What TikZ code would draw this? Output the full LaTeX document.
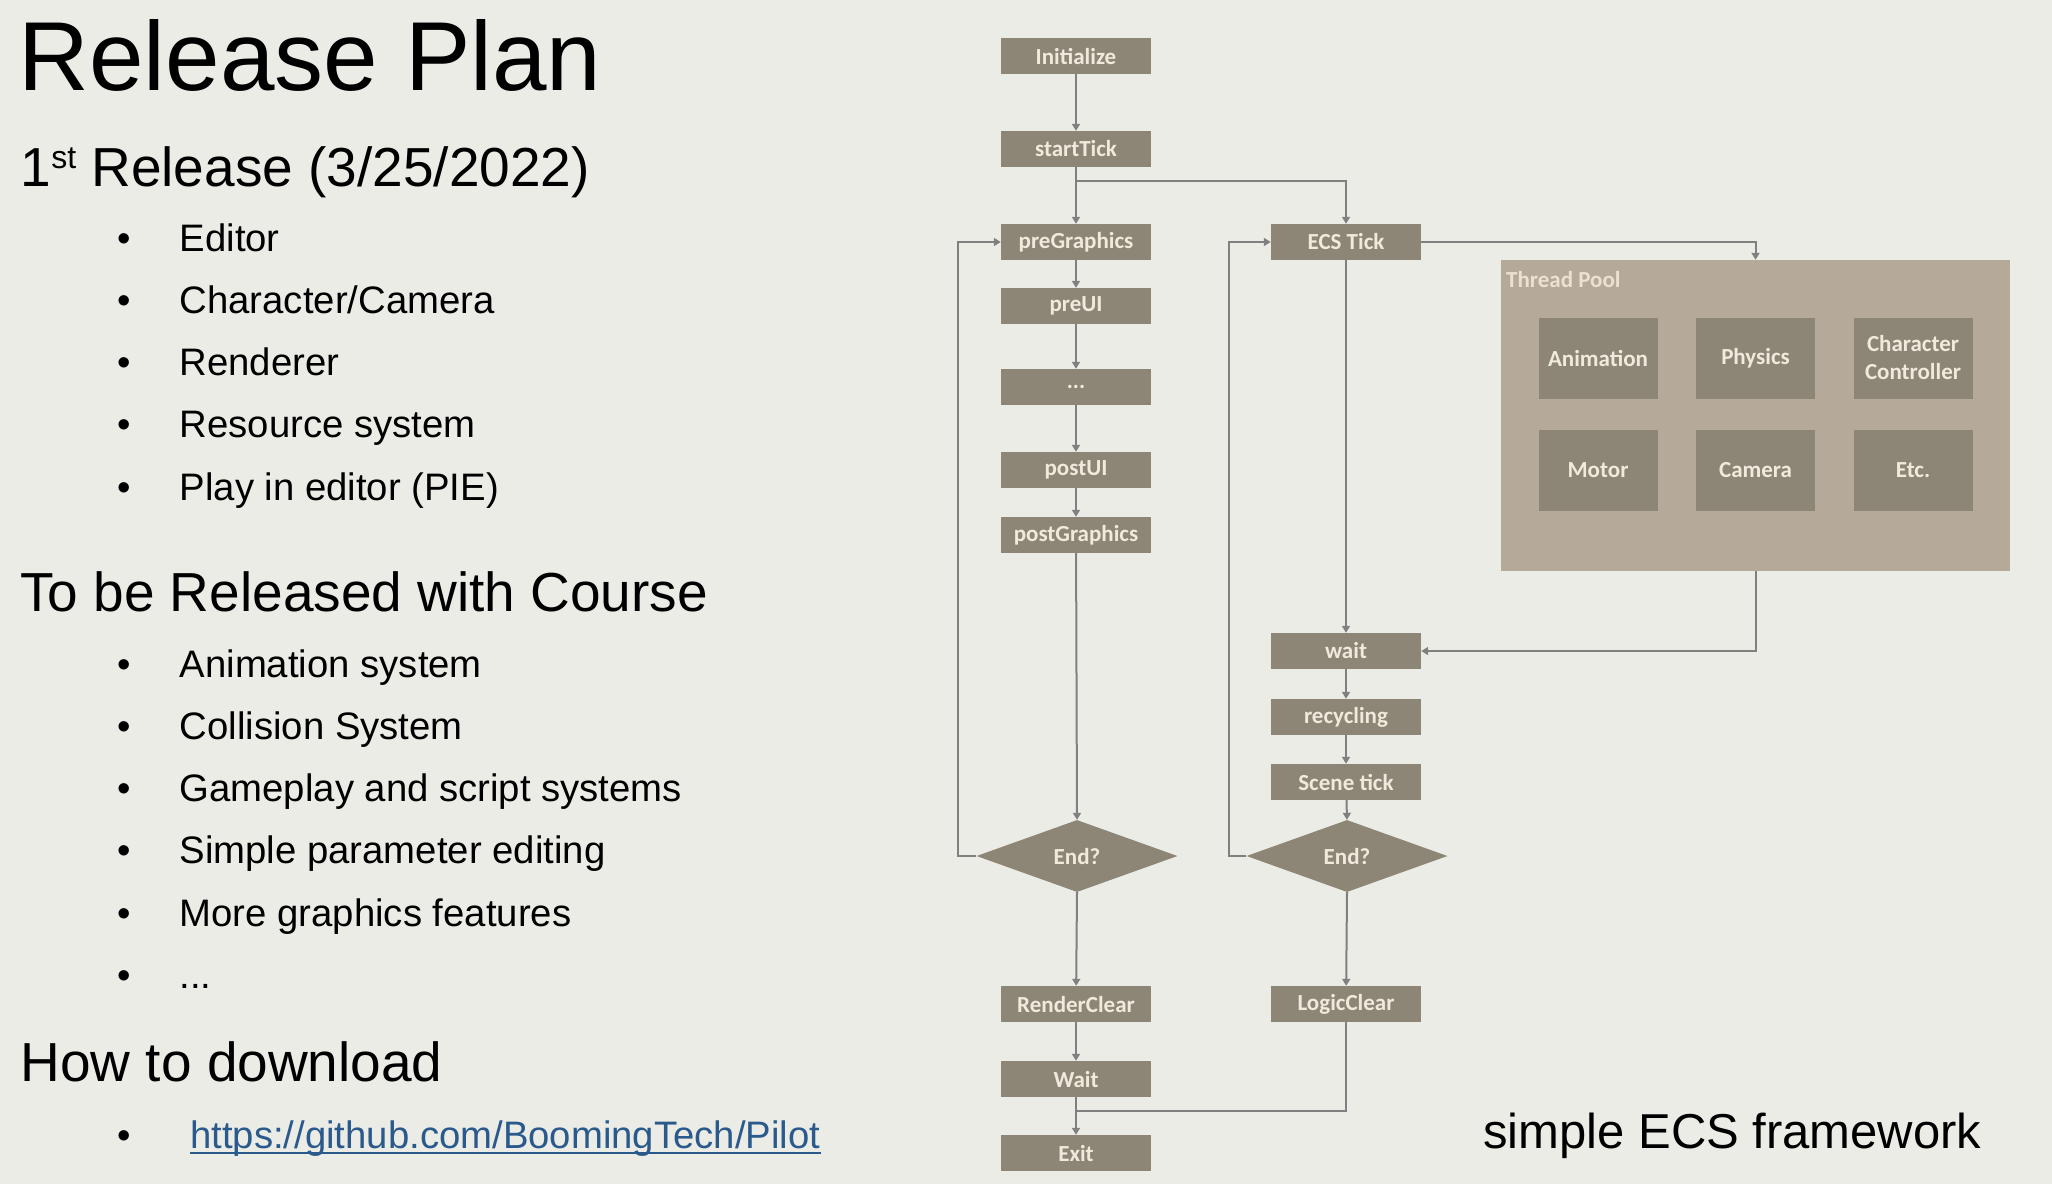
\documentclass[tikz,border=0pt]{standalone}
\usepackage{fontspec}
\setmainfont{Liberation Sans}
\newfontfamily\boxfamily{Carlito}
\usetikzlibrary{shapes.geometric,arrows.meta}

\definecolor{pagebg}{HTML}{ECECE7}
\definecolor{boxfill}{HTML}{8D8677}
\definecolor{poolfill}{HTML}{B5AA9A}
\definecolor{boxtext}{HTML}{F0EADD}
\definecolor{pooltext}{HTML}{EAE1D1}
\definecolor{linegray}{HTML}{808080}
\definecolor{linkblue}{HTML}{2A5A8C}

\newcommand\boxfont{\boxfamily\bfseries\fontsize{23}{28}\selectfont}
\newcommand\titlefont{\fontsize{98}{112}\selectfont}
\newcommand\headfont{\fontsize{55}{63}\selectfont}
\newcommand\itemfont{\fontsize{38.3}{46}\selectfont}
\newcommand\notefont{\fontsize{49}{58}\selectfont}
\newcommand\ordsuffix[1]{\raisebox{18pt}{\fontsize{32}{32}\selectfont #1}}

\tikzset{
  stepbox/.style={rectangle, fill=boxfill, text=boxtext, font=\boxfont,
    minimum width=150pt, minimum height=36pt, inner sep=0pt},
  decision/.style={diamond, fill=boxfill, text=boxtext, font=\boxfont,
    minimum width=201pt, minimum height=72pt, inner sep=0pt},
  sysbox/.style={rectangle, fill=boxfill, text=boxtext, font=\boxfont,
    minimum width=119pt, minimum height=81pt, inner sep=0pt, align=center},
  pool/.style={rectangle, fill=poolfill, minimum width=509pt,
    minimum height=311pt, inner sep=0pt},
  flow/.style={draw=linegray, line width=2pt},
  arr/.style={flow, -{Triangle[length=7pt,width=8pt]}},
  txt/.style={anchor=base west, inner sep=0pt, text=black},
  bullet/.style={anchor=base, inner sep=0pt, text=black, font=\itemfont},
}

\begin{document}
\begin{tikzpicture}[x=1pt, y=-1pt]
  % page
  \fill[pagebg] (0,0) rectangle (2052,1184);
  \useasboundingbox (0,0) rectangle (2052,1184);

  % ---------- text column ----------
  \node[txt, font=\titlefont] (title) at (18.5,90) {Release Plan};
  \node[txt, font=\headfont] (rel1) at (20.5,186) {1\ordsuffix{st} Release (3/25/2022)};

  \node[bullet] (b1) at (124.6,251) {•};
  \node[txt, font=\itemfont] (i1) at (179.5,251) {Editor};
  \node[bullet] (b2) at (124.6,313.5) {•};
  \node[txt, font=\itemfont] (i2) at (179.5,313.5) {Character/Camera};
  \node[bullet] (b3) at (124.6,375.5) {•};
  \node[txt, font=\itemfont] (i3) at (179.5,375.5) {Renderer};
  \node[bullet] (b4) at (124.6,437.5) {•};
  \node[txt, font=\itemfont] (i4) at (179.5,437.5) {Resource system};
  \node[bullet] (b5) at (124.6,500) {•};
  \node[txt, font=\itemfont] (i5) at (179.5,500) {Play in editor (PIE)};

  \node[txt, font=\headfont] (course) at (20,611.5) {To be Released with Course};

  \node[bullet] (c1b) at (124.6,677) {•};
  \node[txt, font=\itemfont] (c1) at (179.5,677) {Animation system};
  \node[bullet] (c2b) at (124.6,739) {•};
  \node[txt, font=\itemfont] (c2) at (179.5,739) {Collision System};
  \node[bullet] (c3b) at (124.6,801) {•};
  \node[txt, font=\itemfont] (c3) at (179.5,801) {Gameplay and script systems};
  \node[bullet] (c4b) at (124.6,863) {•};
  \node[txt, font=\itemfont] (c4) at (179.5,863) {Simple parameter editing};
  \node[bullet] (c5b) at (124.6,926) {•};
  \node[txt, font=\itemfont] (c5) at (179.5,926) {More graphics features};
  \node[bullet] (c6b) at (124.6,988) {•};
  \node[txt, font=\itemfont] (c6) at (179.5,988) {...};

  \node[txt, font=\headfont] (dl) at (20.5,1081) {How to download};
  \node[bullet] (lb) at (124.6,1148) {•};
  \node[txt, font=\itemfont, text=linkblue] (link) at (190,1148) {https://github.com/BoomingTech/Pilot};
  \draw[linkblue, line width=2pt] ([yshift=-5pt]link.base west) -- ([yshift=-5pt]link.base east);

  \node[txt, font=\notefont] (ecsnote) at (1483,1148) {simple ECS framework};

  % ---------- render loop column ----------
  \node[stepbox] (init)   at (1076,56)  {Initialize};
  \node[stepbox] (start)  at (1076,149) {startTick};
  \node[stepbox] (preg)   at (1076,242) {preGraphics};
  \node[stepbox] (preui)  at (1076,306) {preUI};
  \node[stepbox] (mid)    at (1076,387) {...};
  \node[stepbox] (postui) at (1076,470) {postUI};
  \node[stepbox] (postg)  at (1076,535) {postGraphics};
  \node[decision] (endl)  at (1077,856) {End?};
  \node[stepbox] (rclear) at (1076,1004) {RenderClear};
  \node[stepbox] (waitl)  at (1076,1079) {Wait};
  \node[stepbox] (exit)   at (1076,1153) {Exit};

  % ---------- logic loop column ----------
  \node[stepbox] (ecs)    at (1346,242) {ECS Tick};
  \node[stepbox] (waitr)  at (1346,651) {wait};
  \node[stepbox] (recyc)  at (1346,717) {recycling};
  \node[stepbox] (scene)  at (1346,782) {Scene tick};
  \node[decision] (endr)  at (1347,856) {End?};
  \node[stepbox] (lclear) at (1346,1004) {LogicClear};

  % ---------- thread pool ----------
  \node[pool] (tpool) at (1755.5,415.5) {};
  \node[anchor=base west, inner sep=0pt, text=pooltext, font=\boxfont] (tplabel) at (1506,287) {Thread Pool};
  \node[sysbox] (anim)  at (1598,358)   {Animation};
  \node[sysbox] (phys)  at (1755.5,358) {Physics};
  \node[sysbox] (ctrl)  at (1913,358)   {Character\\Controller};
  \node[sysbox] (motor) at (1598,470)   {Motor};
  \node[sysbox] (cam)   at (1755.5,470) {Camera};
  \node[sysbox] (etc)   at (1913,470)   {Etc.};

  % ---------- connectors ----------
  \coordinate (split) at (1076,181);
  \coordinate (merge) at (1076,1111);

  \draw[arr] (init) -- (start);
  \draw[arr] (start) -- (preg);
  \draw[arr] (split) -| (ecs.north);
  \draw[arr] (preg) -- (preui);
  \draw[arr] (preui) -- (mid);
  \draw[arr] (mid) -- (postui);
  \draw[arr] (postui) -- (postg);
  \draw[arr] (postg) -- (endl.north);
  \draw[arr] (endl.west) -- ++(-18,0) |- (preg.west);
  \draw[arr] (endl.south) -- (rclear);
  \draw[arr] (rclear) -- (waitl);
  \draw[arr] (waitl) -- (exit);

  \draw[arr] (ecs.east) -| (tpool.north);
  \draw[arr] (ecs.south) -- (waitr.north);
  \draw[arr] (tpool.south) |- (waitr.east);
  \draw[arr] (waitr) -- (recyc);
  \draw[arr] (recyc) -- (scene);
  \draw[arr] (scene) -- (endr.north);
  \draw[arr] (endr.west) -- ++(-17,0) |- (ecs.west);
  \draw[arr] (endr.south) -- (lclear);
  \draw[flow] (lclear.south) |- (merge);
\end{tikzpicture}
\end{document}
